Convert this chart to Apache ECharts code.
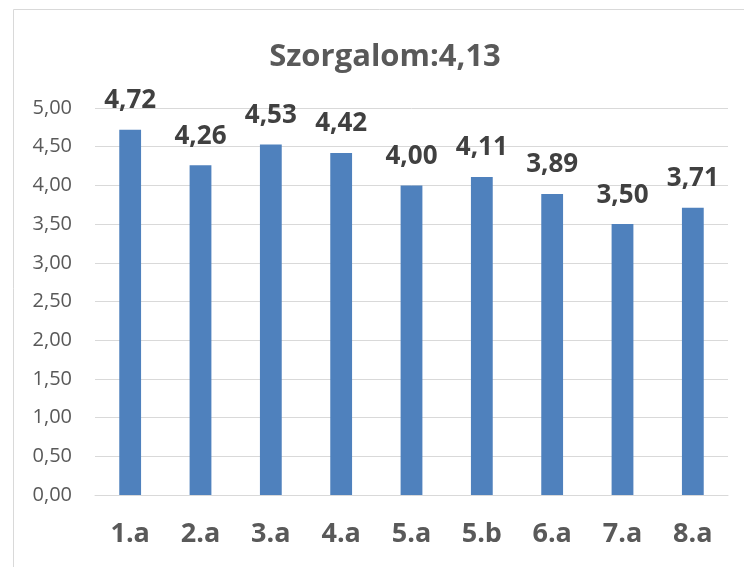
<!DOCTYPE html>
<html>
<head>
<meta charset="utf-8">
<title>Szorgalom</title>
<script src="https://cdn.jsdelivr.net/npm/echarts@6/dist/echarts.min.js"></script>
<style>
  html, body { margin: 0; padding: 0; background: #fff; }
  #chart { width: 744px; height: 567px; }
</style>
</head>
<body>
<div id="chart"></div>
<script>
// adatok
var osztalyok = ['1.a', '2.a', '3.a', '4.a', '5.a', '5.b', '6.a', '7.a', '8.a'];
var szorgalom = [4.72, 4.26, 4.53, 4.42, 4.00, 4.11, 3.89, 3.50, 3.71];
var cim = 'Szorgalom:4,13';

function vesszo (v) {
  return Number(v).toFixed(2).replace('.', ',');
}

var myChart = echarts.init(document.getElementById('chart'));
myChart.setOption({
  animation: false,
  textStyle: { fontFamily: 'Open Sans' },
  title: {
    text: cim,
    left: 380,
    top: 37,
    textAlign: 'center',
    textStyle: { color: '#595959', fontSize: 31, fontWeight: 'bold', fontFamily: 'Open Sans' }
  },
  // keret
  graphic: [{
    type: 'rect',
    silent: true,
    shape: { x: 13.5, y: 9.5, width: 800, height: 600 },
    style: { fill: 'none', stroke: '#d9d9d9', lineWidth: 1 }
  }],
  grid: { left: 95, right: 16, top: 108, bottom: 72, containLabel: false },
  xAxis: {
    type: 'category',
    data: osztalyok,
    axisTick: { show: false },
    axisLine: { lineStyle: { color: '#d9d9d9' } },
    axisLabel: { color: '#595959', fontSize: 27, fontWeight: 'bold', margin: 26 }
  },
  yAxis: {
    type: 'value',
    min: 0,
    max: 5,
    interval: 0.5,
    axisLine: { show: false },
    axisTick: { show: false },
    splitLine: { lineStyle: { color: '#d9d9d9' } },
    axisLabel: { color: '#595959', fontSize: 20, margin: 23, formatter: vesszo }
  },
  series: [{
    type: 'bar',
    data: szorgalom,
    barWidth: '31%',
    itemStyle: { color: '#4f81bd' },
    label: {
      show: true,
      position: 'top',
      distance: 16,
      color: '#404040',
      fontSize: 26,
      fontWeight: 'bold',
      formatter: function (p) { return vesszo(p.value); }
    }
  }]
});
</script>
</body>
</html>
